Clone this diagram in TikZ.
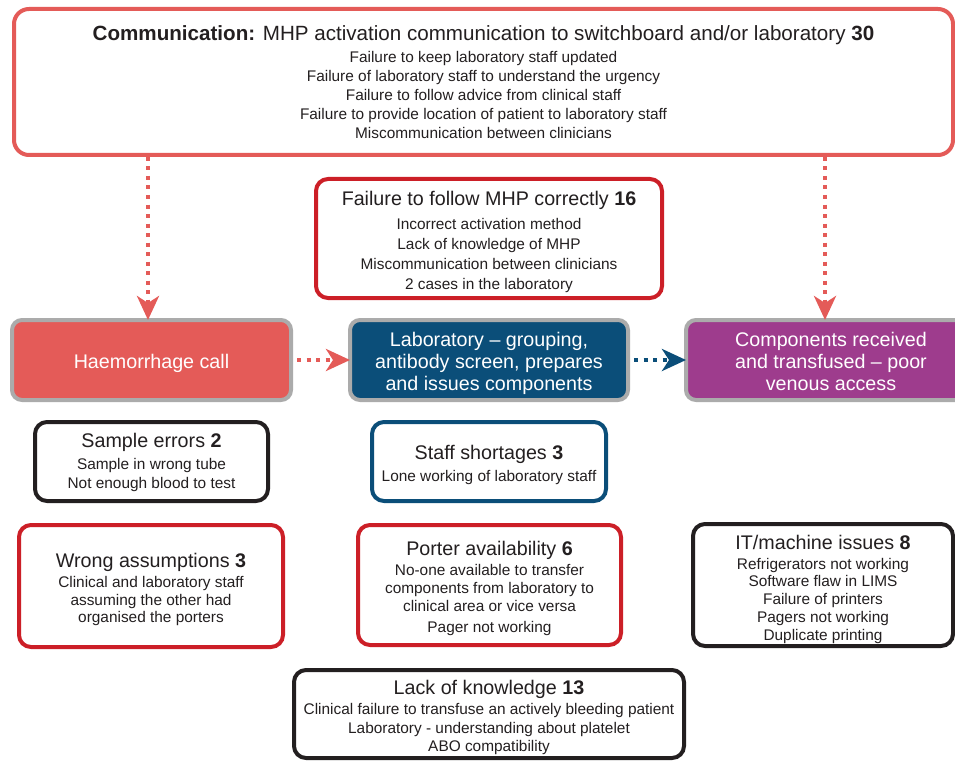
\documentclass[tikz,border=0pt]{standalone}
\usepackage{fontspec}
\setmainfont{Liberation Sans}
\usepackage{xcolor}
\usetikzlibrary{arrows.meta,positioning}

\definecolor{ink}{HTML}{231F20}
\definecolor{coral}{HTML}{E45B58}
\definecolor{deepred}{HTML}{CC1F27}
\definecolor{labblue}{HTML}{0B4E79}
\definecolor{plum}{HTML}{9E3C8D}
\definecolor{rimgray}{HTML}{ABABAB}

\newcommand{\subfont}{\fontsize{15.4}{19}\selectfont}
\newcommand{\headfont}{\fontsize{19.7}{22}\selectfont}
\newcommand{\bigheadfont}{\fontsize{20.6}{22}\selectfont}
\newcommand{\padtop}[1]{\rule{0pt}{#1}}

\begin{document}
\begin{tikzpicture}[
    x=1pt, y=-1pt,
    card/.style={rectangle, rounded corners=12pt, line width=4pt, fill=white, align=center, inner sep=0pt, text=ink, font=\subfont},
    redcard/.style={card, draw=deepred},
    blackcard/.style={card, draw=ink},
    bluecard/.style={card, draw=labblue},
    coralcard/.style={card, draw=coral, rounded corners=15pt},
    stage/.style={rectangle, rounded corners=10pt, line width=4pt, draw=rimgray, align=center, inner sep=0pt, text=white, font=\headfont, minimum height=80pt},
    flow/.style={line width=4pt, dash pattern=on 4pt off 5.5pt, -{Stealth[length=24pt, width=22pt, inset=7pt]}, shorten >=-2pt}
]
    \useasboundingbox (0,0) rectangle (955,762);

    % Communication box across the top
    \node[coralcard, minimum width=939pt, minimum height=146pt] (comm) at (483.5,82) {
        {\bigheadfont\textbf{Communication:} MHP activation communication to switchboard and/or laboratory \textbf{30}}\\[3pt]
        Failure to keep laboratory staff updated\\
        Failure of laboratory staff to understand the urgency\\
        Failure to follow advice from clinical staff\\
        Failure to provide location of patient to laboratory staff\\
        Miscommunication between clinicians};

    \node[redcard, minimum width=346pt, minimum height=119pt] (mhp) at (489,238.5) {
        {\headfont\padtop{21pt}Failure to follow MHP correctly \textbf{16}}\\[5pt]
        Incorrect activation method\\[1pt]
        Lack of knowledge of MHP\\[1pt]
        Miscommunication between clinicians\\[1pt]
        2 cases in the laboratory};

    % Process stages
    \node[stage, fill=coral, minimum width=279pt] (haem) at (151.5,360) {\padtop{20.5pt}Haemorrhage call};
    \node[stage, fill=labblue, minimum width=278pt] (lab) at (489,360) {\padtop{20.5pt}Laboratory -- grouping,\\antibody screen, prepares\\and issues components};
    \node[stage, fill=plum, minimum width=290pt] (comp) at (831,360) {\padtop{17pt}Components received\\and transfused -- poor\\venous access};

    % Contributing factors
    \node[blackcard, minimum width=233pt, minimum height=79pt] (sample) at (151.5,461.5) {
        {\headfont\padtop{17pt}Sample errors \textbf{2}}\\[3pt]
        Sample in wrong tube\\
        Not enough blood to test};
    \node[bluecard, minimum width=234pt, minimum height=79pt] (staff) at (489,461.5) {
        {\headfont\padtop{20.5pt}Staff shortages \textbf{3}}\\[3pt]
        Lone working of laboratory staff};
    \node[redcard, minimum width=264pt, minimum height=122pt] (wrong) at (151,586) {
        {\headfont\padtop{21pt}Wrong assumptions \textbf{3}}\\[1pt]
        Clinical and laboratory staff\\[-1pt]
        assuming the other had\\[-1.5pt]
        organised the porters};
    \node[redcard, minimum width=263pt, minimum height=120pt] (porter) at (489.5,585) {
        {\headfont\padtop{22pt}Porter availability \textbf{6}}\\[1pt]
        No-one available to transfer\\[-1pt]
        components from laboratory to\\[-1pt]
        clinical area or vice versa\\[2pt]
        Pager not working};
    \node[blackcard, minimum width=260pt, minimum height=122pt] (it) at (823,585) {
        {\headfont\padtop{23pt}IT/machine issues \textbf{8}}\\[1pt]
        Refrigerators not working\\[-2pt]
        Software flaw in LIMS\\[-1.5pt]
        Failure of printers\\[-1pt]
        Pagers not working\\[-1pt]
        Duplicate printing};
    \node[blackcard, minimum width=390pt, minimum height=88pt] (lack) at (489,714) {
        {\headfont\padtop{21.5pt}Lack of knowledge \textbf{13}}\\[1pt]
        Clinical failure to transfuse an actively bleeding patient\\
        Laboratory - understanding about platelet\\[-0.5pt]
        ABO compatibility};

    % Connections
    \draw[flow, coral] (comm.south -| 148,0) -- (haem.north -| 148,0);
    \draw[flow, coral] (comm.south -| 825,0) -- (comp.north -| 825,0);
    \draw[flow, coral] (haem.east) ++(4,0) -- (lab.west);
    \draw[flow, labblue] (lab.east) ++(4,0) -- (comp.west);
\end{tikzpicture}
\end{document}
